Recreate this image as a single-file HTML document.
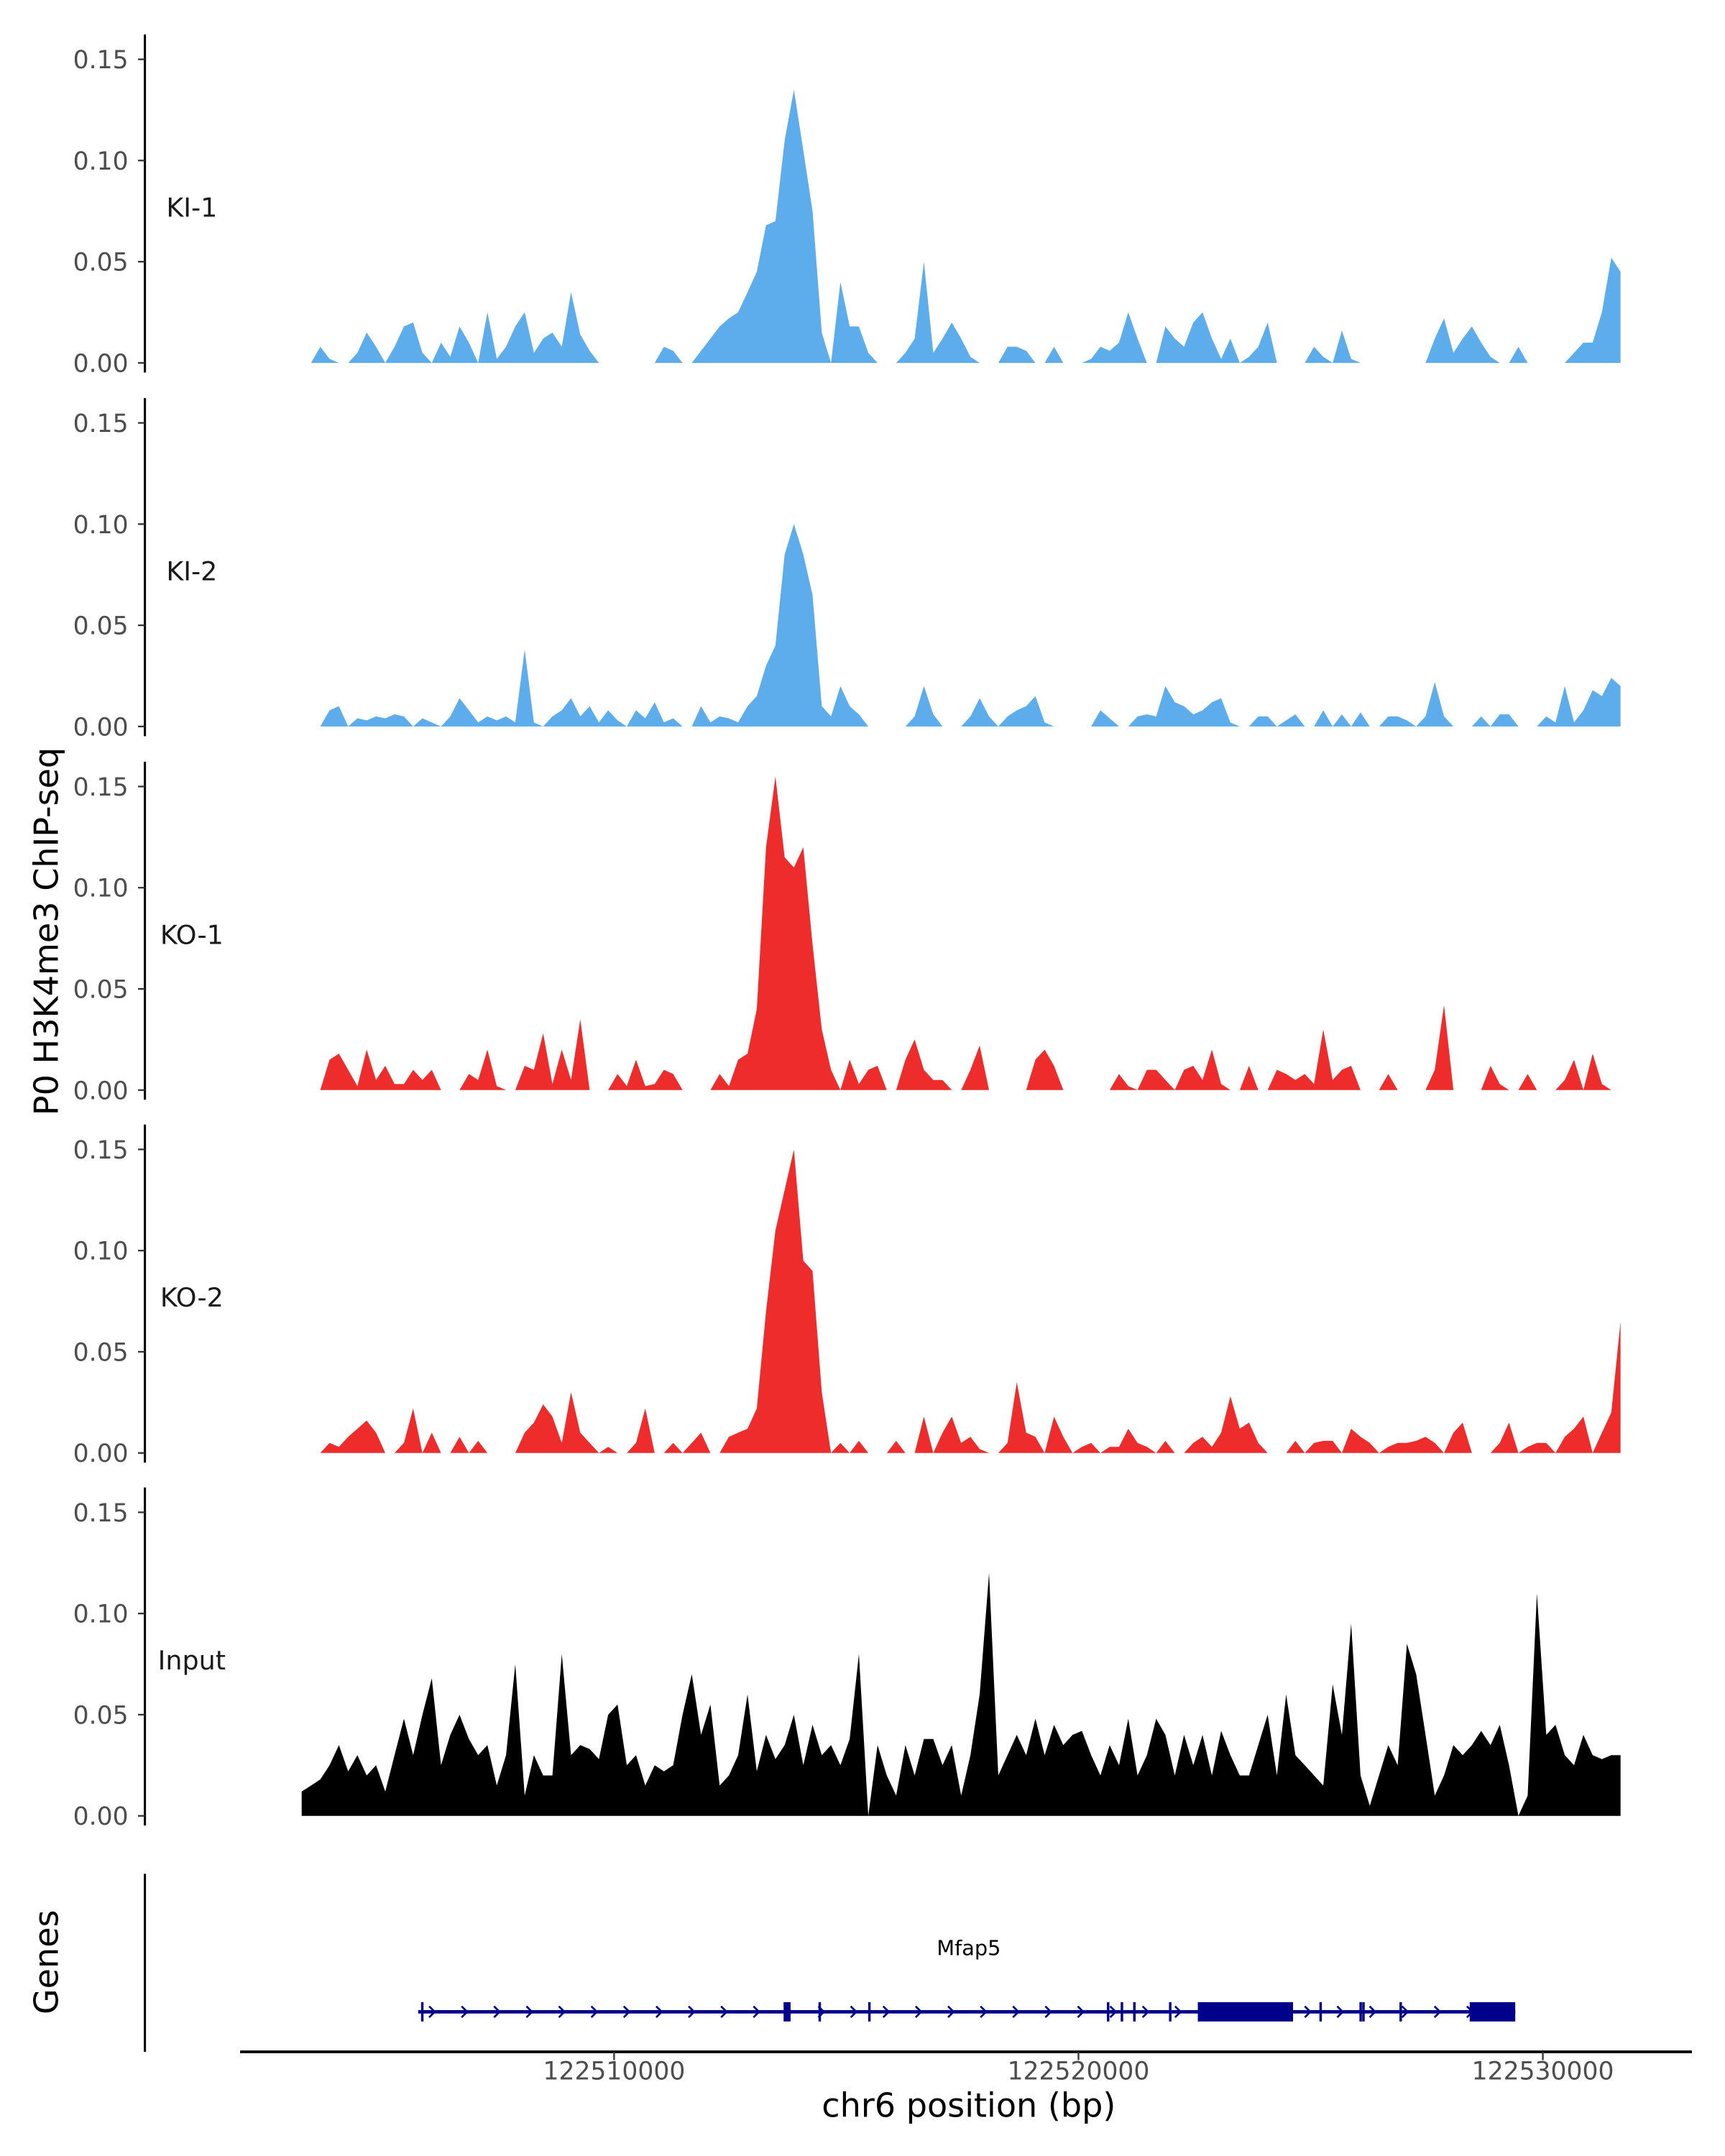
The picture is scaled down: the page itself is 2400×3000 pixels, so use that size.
<!DOCTYPE html>
<html><head><meta charset="utf-8"><style>
html,body{margin:0;padding:0;background:#fff}
svg{display:block}
text{font-family:"DejaVu Sans","Liberation Sans",sans-serif}
</style></head><body>
<svg id="chart" width="2400" height="3000" viewBox="0 0 1250 1562.5" xmlns="http://www.w3.org/2000/svg">
<g id="root"></g>
<text x="702" y="1534" text-anchor="middle" font-size="24">chr6 position (bp)</text>
<text transform="translate(42,675) rotate(-90)" text-anchor="middle" font-size="24">P0 H3K4me3 ChIP-seq</text>
<text transform="translate(42,1422) rotate(-90)" text-anchor="middle" font-size="24">Genes</text>
</svg>
<script>
// genomic bins: start bp and bin size
const binStart = 122503273;
const binSize = 200;
const trackNames = ["KI-1","KI-2","KO-1","KO-2","Input"];
const trackColors = ["#5DADEC","#5DADEC","#EE2C2C","#EE2C2C","#000000"];
const yTicks = [0, 0.05, 0.10, 0.15];
const yTickLabels = ["0.00","0.05","0.10","0.15"];
const xTicks = [122510000, 122520000, 122530000];
const xTickLabels = ["122510000","122520000","122530000"];
// values in units of 0.001
const ki1 = [0,0,8,2,0,0,5,15,8,0,8,18,20,5,0,10,3,18,10,0,25,2,8,18,25,5,12,15,8,35,14,6,0,0,0,0,0,0,0,8,6,0,0,6,12,18,22,25,35,45,68,70,110,135,105,75,15,0,40,18,18,5,0,0,0,5,12,50,5,12,20,12,3,0,0,0,8,8,6,0,0,8,0,0,0,2,8,6,10,25,12,0,0,18,12,8,20,25,12,2,12,0,3,8,20,0,0,0,0,8,3,0,16,2,0,0,0,0,0,0,0,0,12,22,5,12,18,10,3,0,0,8,0,0,0,0,0,5,10,10,25,52,45];
const ki2 = [0,0,0,8,10,0,4,3,5,4,6,5,0,4,2,0,5,14,8,2,5,3,5,2,38,2,0,5,8,14,5,10,2,8,3,0,8,4,12,2,4,0,0,10,2,5,4,2,10,15,30,40,85,100,85,65,10,5,20,10,6,0,0,0,0,0,5,20,6,0,0,0,5,14,5,0,5,8,10,15,2,0,0,0,0,0,8,4,0,0,5,6,5,20,12,10,6,8,12,14,2,0,0,5,5,0,3,6,0,0,8,0,6,0,7,0,0,5,5,3,0,5,22,5,0,0,0,5,0,6,6,0,0,0,5,2,20,2,8,18,15,24,20];
const ko1 = [0,0,0,15,18,10,2,20,5,12,3,3,10,5,10,0,0,0,8,5,20,2,0,0,12,10,28,3,20,5,35,0,0,0,8,2,15,2,3,10,8,0,0,0,0,8,2,15,18,40,120,155,115,110,120,72,30,10,0,15,3,10,12,0,0,15,25,10,5,5,0,0,10,22,0,0,0,0,0,15,20,12,0,0,0,0,0,0,8,2,0,10,10,5,0,10,12,5,20,3,0,0,12,0,0,10,8,5,8,3,30,5,10,12,0,0,0,8,0,0,0,0,10,42,0,0,0,0,12,3,0,0,8,0,0,0,5,15,0,18,3,0,0];
const ko2 = [0,0,0,5,3,8,12,16,10,0,0,5,22,0,10,0,0,8,0,6,0,0,0,0,10,15,24,18,5,30,10,5,0,3,0,0,5,22,0,0,5,0,5,10,0,0,8,10,12,22,70,110,130,150,95,90,30,0,5,0,6,0,0,0,6,0,0,18,0,10,18,5,8,2,0,0,5,35,10,8,0,18,8,0,3,5,0,3,3,12,5,3,0,6,0,0,5,8,3,10,28,12,15,5,0,0,0,6,0,5,6,6,0,12,8,5,0,3,5,5,6,8,5,0,10,15,0,0,0,5,15,0,3,5,5,0,8,12,18,0,10,20,65];
const inputTrack = [12,15,18,25,35,22,30,20,25,12,30,48,30,50,68,25,40,50,38,30,35,15,30,75,10,30,20,20,80,30,35,33,28,50,55,25,30,15,25,22,25,50,70,40,55,15,20,30,60,22,40,28,35,50,25,45,30,35,25,38,80,0,35,20,10,35,20,38,38,25,35,10,30,60,120,20,30,40,30,48,30,45,35,40,42,30,20,35,25,48,20,30,48,40,20,40,25,40,20,42,30,20,20,35,50,20,60,30,25,20,15,65,40,95,20,5,20,35,25,85,70,40,10,20,35,30,35,42,35,45,25,0,10,110,40,45,30,25,40,30,28,30,30];
const trackValues = [ki1, ki2, ko1, ko2, inputTrack];
// gene model
const geneStart = 122505780, geneEnd = 122529406;
const exonsThin = [122505870,122514428,122515498,122520639,122520936,122521204,122521976,122525215,122526077,122526137,122526939];
const exonsThick = [[122513650,122513800],[122522570,122524621],[122528425,122529406]];

const NS="http://www.w3.org/2000/svg";
const root=document.getElementById('root');
function el(tag,attrs,parent){const e=document.createElementNS(NS,tag);for(const k in attrs)e.setAttribute(k,attrs[k]);(parent||root).appendChild(e);return e;}
const xScale = bp => 445 + (bp-122510000)*(336.5/10000);
const binX = i => xScale(binStart + i*binSize);
const panelBase = [263, 526.5, 790, 1053, 1316];
const yPx = 220/0.15;

trackNames.forEach((name,t)=>{
  const base=panelBase[t];
  const g=el('g',{});
  
  
  const ax=el('line',{x1:105,x2:105,y1:base-238,y2:base+7,stroke:'#000','stroke-width':1.6},g);
  
  
  yTicks.forEach((v,k)=>{
    const y=base-v*yPx;
    el('line',{x1:100,x2:105,y1:y,y2:y,stroke:'#333','stroke-width':1.2},g);
    const tx=el('text',{x:93,y:y+6.5,'text-anchor':'end','font-size':18,fill:'#4d4d4d'},g);
    tx.textContent=yTickLabels[k];
    
    
  });
  const vals=trackValues[t];
  let d='M'+binX(0).toFixed(1)+','+base;
  vals.forEach((v,i)=>{d+=' L'+binX(i).toFixed(1)+','+(base-v/1000*yPx).toFixed(1);});
  d+=' L'+binX(vals.length-1).toFixed(1)+','+base+' Z';
  const p=el('path',{d:d,fill:trackColors[t]},g);
  
  
  const lb=el('text',{x:139,y:base-106,'text-anchor':'middle','font-size':19,fill:'#1a1a1a'},g);
  lb.textContent=name;
  
  
});

// gene panel
const gg=el('g',{});


el('line',{x1:105,x2:105,y1:1358,y2:1487,stroke:'#000','stroke-width':1.6},gg);
const gy=1458;
el('line',{x1:xScale(geneStart),x2:xScale(geneEnd),y1:gy,y2:gy,stroke:'#00008B','stroke-width':2.5},gg);
for(let x=xScale(geneStart)+10;x<xScale(geneEnd)-5;x+=23.5){
  el('path',{d:`M${x-2},${gy-4} L${x+2},${gy} L${x-2},${gy+4}`,fill:'none',stroke:'#00008B','stroke-width':1.4},gg);
}
exonsThin.forEach(b=>{el('line',{x1:xScale(b),x2:xScale(b),y1:gy-7,y2:gy+7,stroke:'#00008B','stroke-width':1.8},gg);});
exonsThick.forEach(e=>{
  const r=el('rect',{x:xScale(e[0]),y:gy-7,width:xScale(e[1])-xScale(e[0]),height:14,fill:'#00008B'},gg);
  
  
});
const gl=el('text',{x:702,y:1417,'text-anchor':'middle','font-size':15,fill:'#000'},gg);
gl.textContent='Mfap5';



// x axis
const xa=el('line',{x1:174,x2:1226,y1:1487,y2:1487,stroke:'#000','stroke-width':2});


xTicks.forEach((b,k)=>{
  el('line',{x1:xScale(b),x2:xScale(b),y1:1487,y2:1493,stroke:'#333','stroke-width':1.2});
  const t=el('text',{x:xScale(b),y:1507,'text-anchor':'middle','font-size':18,fill:'#4d4d4d'});
  t.textContent=xTickLabels[k];
  
  
});
</script>
</body></html>
